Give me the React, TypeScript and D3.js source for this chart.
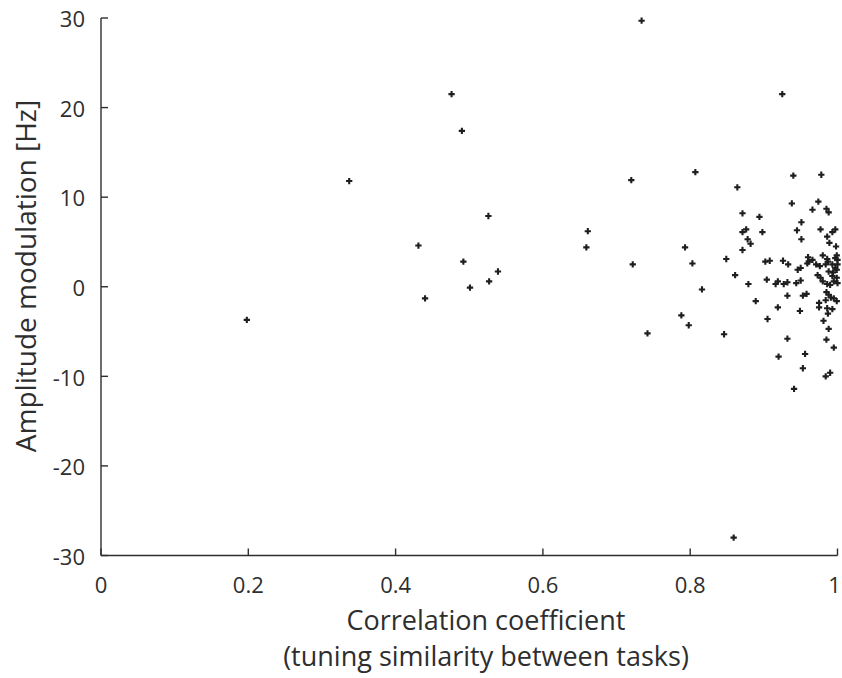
import React from "react";
import * as d3 from "d3";

const corr: number[] = [
  0.198, 0.337, 0.431, 0.440, 0.476, 0.490, 0.492, 0.501, 0.526, 0.527, 0.539, 0.659, 0.661, 0.720,
  0.722, 0.734, 0.742, 0.788, 0.793, 0.798, 0.803, 0.807, 0.816, 0.846, 0.849, 0.859, 0.861, 0.864,
  0.871, 0.871, 0.876, 0.871, 0.878, 0.882, 0.879, 0.889, 0.894, 0.898, 0.902, 0.908, 0.904, 0.905,
  0.916, 0.919, 0.919, 0.920, 0.925, 0.926, 0.933, 0.927, 0.932, 0.932, 0.932, 0.938, 0.940, 0.941,
  0.944, 0.945, 0.946, 0.950, 0.950, 0.949, 0.951, 0.951, 0.953, 0.953, 0.956, 0.958, 0.959, 0.960,
  0.966, 0.966, 0.971, 0.974, 0.973, 0.975, 0.975, 0.976, 0.977, 0.977, 0.978, 0.980, 0.980, 0.981,
  0.984, 0.984, 0.985, 0.985, 0.985, 0.986, 0.986, 0.986, 0.986, 0.987, 0.987, 0.988, 0.988, 0.988,
  0.988, 0.989, 0.990, 0.990, 0.991, 0.993, 0.993, 0.993, 0.993, 0.994, 0.995, 0.995, 0.995, 0.997,
  0.998, 0.999, 0.999, 0.999, 0.999, 1.0, 1.0, 0.961, 0.997, 1.0, 0.984, 0.997,
];

const amp: number[] = [
  -3.7, 11.8, 4.6, -1.3, 21.5, 17.4, 2.8, -0.1, 7.9, 0.6, 1.7, 4.4, 6.2, 11.9,
  2.5, 29.7, -5.2, -3.2, 4.4, -4.3, 2.6, 12.8, -0.3, -5.3, 3.1, -28.0, 1.3, 11.1,
  8.2, 6.1, 6.4, 4.1, 5.3, 4.8, 0.3, -1.6, 7.8, 6.1, 2.8, 2.9, 0.8, -3.6,
  0.3, 0.6, -2.3, -7.8, 21.5, 2.9, 2.5, 0.3, 0.5, -1.0, -5.8, 9.3, 12.4, -11.4,
  0.4, 6.3, 1.9, 2.1, 0.7, -2.7, 7.2, 5.3, -1.0, -9.1, -7.5, -0.8, 2.6, 3.3,
  3.0, 8.6, 2.5, 9.5, 1.3, -1.8, -2.3, 2.3, 6.4, 1.0, 12.5, 3.5, 0.6, -3.8,
  -1.5, -10.0, 8.7, -0.6, -5.9, 5.6, 3.1, 0.3, -2.4, 2.8, -3.0, 8.3, 1.7, -0.9,
  -4.7, 4.9, 0.2, -9.6, -1.2, 6.1, 2.5, 1.2, -2.5, 1.6, 0.6, -1.3, -6.8, 6.4,
  4.5, 3.5, 1.9, 1.0, -1.6, 2.5, 0.4, 2.8, 3.2, 3.0, 2.5, 2.1,
];

const xTicks: number[] = [0, 0.2, 0.4, 0.6, 0.8, 1];
const xTickLabels: string[] = ["0", "0.2", "0.4", "0.6", "0.8", "1"];
const yTicks: number[] = [-30, -20, -10, 0, 10, 20, 30];
const yTickLabels: string[] = ["-30", "-20", "-10", "0", "10", "20", "30"];
const xTitle = "Correlation coefficient";
const xSubtitle = "(tuning similarity between tasks)";
const yTitle = "Amplitude modulation [Hz]";

const W = 842;
const H = 678;
const FONT = "'Open Sans', 'Noto Sans', sans-serif";
const INK = "#2e2e2e";

export default function App() {
  const x = d3.scaleLinear().domain([0, 1]).range([101, 837.5]);
  const y = d3.scaleLinear().domain([-30, 30]).range([555.5, 18]);
  const cross = d3.symbol().type(d3.symbolCross).size(22)() as string;
  const x0 = x.range()[0];
  const y0 = y.range()[0];

  return (
    <svg
      width={W}
      height={H}
      viewBox={`0 0 ${W} ${H}`}
      style={{ position: "absolute", left: 0, top: 0, background: "#fff" }}
    >
      <rect x={0} y={0} width={W} height={H} fill="#fff" />
      <line x1={x0} x2={x0} y1={y.range()[1]} y2={y0} stroke={INK} strokeWidth={1.4} />
      <line x1={x0} x2={x.range()[1]} y1={y0} y2={y0} stroke={INK} strokeWidth={1.4} />
      {yTicks.map((t, i) => (
        <g key={`y${t}`}>
          <line x1={x0} x2={x0 + 7} y1={y(t)} y2={y(t)} stroke={INK} strokeWidth={1.4} />
          <text
            x={x0 - 16}
            y={y(t)}
            dy="0.42em"
            textAnchor="end"
            fontFamily={FONT}
            fontSize={22}
            fill={INK}
          >
            {yTickLabels[i]}
          </text>
        </g>
      ))}
      {xTicks.map((t, i) => (
        <g key={`x${t}`}>
          <line x1={x(t)} x2={x(t)} y1={y0} y2={y0 - 7} stroke={INK} strokeWidth={1.4} />
          <text
            x={i === xTicks.length - 1 ? x(t) - 3 : x(t)}
            y={593}
            textAnchor="middle"
            fontFamily={FONT}
            fontSize={22}
            fill={INK}
          >
            {xTickLabels[i]}
          </text>
        </g>
      ))}
      {corr.map((c, i) => (
        <path
          key={i}
          d={cross}
          transform={`translate(${x(c)},${y(amp[i])})`}
          fill="#1e1e1e"
        />
      ))}
      <text x={486} y={630} textAnchor="middle" fontFamily={FONT} fontSize={27} fill={INK}>
        {xTitle}
      </text>
      <text x={486} y={666} textAnchor="middle" fontFamily={FONT} fontSize={27} fill={INK}>
        {xSubtitle}
      </text>
      <text
        transform={`translate(36, ${276}) rotate(-90)`}
        textAnchor="middle"
        fontFamily={FONT}
        fontSize={28}
        fill={INK}
      >
        {yTitle}
      </text>
    </svg>
  );
}
